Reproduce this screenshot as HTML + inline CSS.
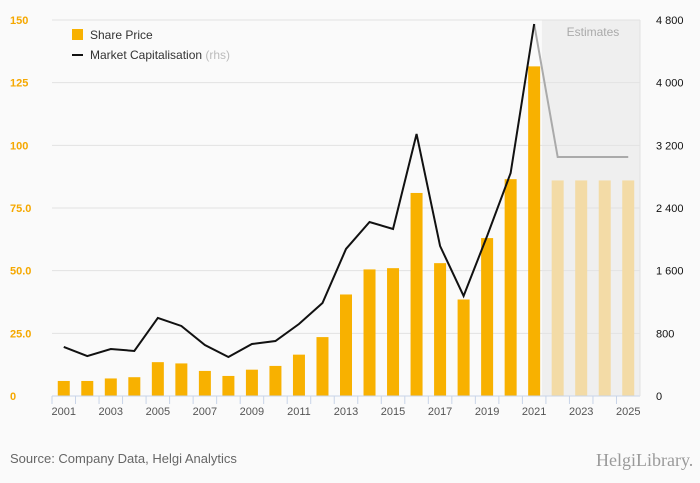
<!DOCTYPE html>
<html><head><meta charset="utf-8"><style>
body{margin:0;background:#fafafa;font-family:"Liberation Sans",sans-serif;}
svg{display:block}
</style></head><body>
<svg id="c" width="700" height="483" xmlns="http://www.w3.org/2000/svg">
<rect width="700" height="483" fill="#fafafa"/>
<text x="10" y="463" font-size="13" fill="#666">Source: Company Data, Helgi Analytics</text>
<text x="596" y="466" font-size="18" fill="#9a9a9a" font-family="Liberation Serif,serif">HelgiLibrary.</text>
<g id="g"></g>
</svg>
<script>
const years=[2001,2002,2003,2004,2005,2006,2007,2008,2009,2010,2011,2012,2013,2014,2015,2016,2017,2018,2019,2020,2021,2022,2023,2024,2025];
const sharePrice=[6,6,7,7.5,13.5,13,10,8,10.5,12,16.5,23.5,40.5,50.5,51,81,53,38.5,63,86.5,131.5,86,86,86,86];
const marketCap=[626,510,600,575,996,894,651,498,664,702,919,1187,1877,2221,2132,3345,1915,1277,2043,2847,4749,3051,3051,3051,3051];
const leftTicks=[0,25,50,75,100,125,150];
const leftLabels=["0","25.0","50.0","75.0","100","125","150"];
const rightTicks=[0,800,1600,2400,3200,4000,4800];
const rightLabels=["0","800","1 600","2 400","3 200","4 000","4 800"];
const firstEstimate=2022;
const NS="http://www.w3.org/2000/svg";
const g=document.getElementById('g');
const X0=52,X1=640,Y0=396,Y1=20;
const step=(X1-X0)/years.length;
const x=i=>X0+step*(i+0.5);
const yL=v=>Y0-(v/150)*(Y0-Y1);
const yR=v=>Y0-(v/4800)*(Y0-Y1);
function el(t,a){const e=document.createElementNS(NS,t);for(const k in a)e.setAttribute(k,a[k]);g.appendChild(e);return e;}
const ei=years.indexOf(firstEstimate);
let r=el('rect',{x:X0+step*ei-4,y:Y1,width:X1-X0-step*ei+4,height:Y0-Y1,fill:'#efefef'});


let t=el('text',{x:X0+step*ei+step*2,y:36,'font-size':12,fill:'#aaa','text-anchor':'middle'});t.textContent='Estimates';


leftTicks.forEach((v,i)=>{
 if(v>0){let l=el('line',{x1:X0,x2:X1,y1:yL(v),y2:yL(v),stroke:'#e2e2e2'});
 
 }
 let a=el('text',{x:10,y:yL(v)+4,'font-size':11,fill:'#f5a800','font-weight':'bold'});a.textContent=leftLabels[i];
 
 
});
rightTicks.forEach((v,i)=>{
 let a=el('text',{x:656,y:yR(v)+4,'font-size':11,fill:'#111'});a.textContent=rightLabels[i];
 
 
});
years.forEach((yr,i)=>{
 const v=sharePrice[i];const est=yr>=firstEstimate;
 let b=el('rect',{x:x(i)-6,y:yL(v),width:12,height:Y0-yL(v),fill:est?'#f3dba6':'#f8b100'});
 
 
 let tk=el('line',{x1:X0+step*i,x2:X0+step*i,y1:Y0,y2:Y0+8,stroke:'#c8d4e8'});
 
 
 if(i%2===0){let a=el('text',{x:x(i),y:Y0+19,'font-size':11,fill:'#555','text-anchor':'middle'});a.textContent=yr;
 
 }
});
let ax=el('line',{x1:X0,x2:X1,y1:Y0,y2:Y0,stroke:'#c8d4e8'});


let ra=el('line',{x1:X1,x2:X1,y1:Y1,y2:Y0,stroke:'#e2e2e2'});


let pA=[],pE=[];
years.forEach((yr,i)=>{const p=x(i)+','+yR(marketCap[i]);if(yr<firstEstimate)pA.push(p);if(yr>=firstEstimate-1)pE.push(p);});
let l1=el('polyline',{points:pE.join(' '),fill:'none',stroke:'#aaa','stroke-width':2});


let l2=el('polyline',{points:pA.join(' '),fill:'none',stroke:'#111','stroke-width':2});


let lg1=el('rect',{x:72,y:29,width:11,height:11,fill:'#f8b100'});


let lt1=el('text',{x:90,y:39,'font-size':12,fill:'#333'});lt1.textContent='Share Price';


let lg2=el('line',{x1:72,x2:83,y1:55,y2:55,stroke:'#111','stroke-width':2});


let lt2=el('text',{x:90,y:59,'font-size':12,fill:'#333'});lt2.innerHTML='Market Capitalisation <tspan fill="#bbb">(rhs)</tspan>';


</script>
</body></html>
